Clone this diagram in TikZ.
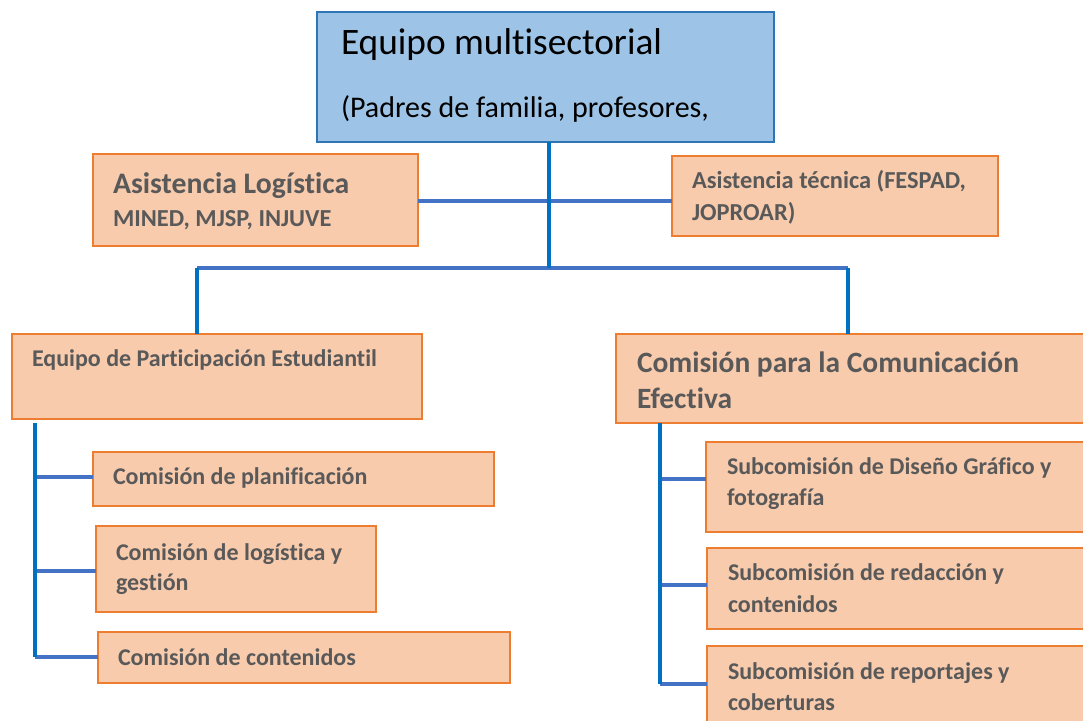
\documentclass[tikz,border=0pt]{standalone}
\usepackage{fontspec}
\setmainfont[Ligatures=NoCommon]{Carlito}
\definecolor{topfill}{HTML}{9DC3E6}
\definecolor{topdraw}{HTML}{2E75B6}
\definecolor{ofill}{HTML}{F8CBAD}
\definecolor{odraw}{HTML}{ED7D31}
\definecolor{ogray}{HTML}{595959}
\definecolor{vblue}{HTML}{0070C0}
\definecolor{hblue}{HTML}{4472C4}
\newcommand\mybox[6]{\node[#6, minimum width={(#4-#2)*0.75pt}, minimum height={(#5-#3)*0.75pt}] (#1) at ({(#2+#4)/2},{(#3+#5)/2}) {};}
\tikzset{
  boxbase/.style={rectangle, inner sep=0pt, outer sep=0pt, line width=1.7pt},
  topbox/.style={boxbase, fill=topfill, draw=topdraw},
  obox/.style={boxbase, fill=ofill, draw=odraw},
  txt/.style={anchor=base west, inner sep=0pt, outer sep=0pt, text=ogray, font=\bfseries},
  vline/.style={draw=vblue, line width=2.8pt},
  hline/.style={draw=hblue, line width=2.8pt},
}
\begin{document}
\begin{tikzpicture}[x=0.75pt, y=-0.75pt]
\useasboundingbox (0,0) rectangle (1083,721);
\clip (0,0) rectangle (1083,721);
% boxes
\mybox{top}{317}{12}{774}{142}{topbox}
\mybox{alog}{93}{154}{418}{246}{obox}
\mybox{atec}{672}{156}{998}{236}{obox}
\mybox{epe}{12}{334}{422}{419}{obox}
\mybox{cpl}{93}{452}{494}{506}{obox}
\mybox{clg}{96}{526}{376}{612}{obox}
\mybox{cct}{98}{632}{510}{683}{obox}
\mybox{cce}{616}{334}{1110}{423}{obox}
\mybox{sdg}{706}{442}{1110}{532}{obox}
\mybox{srd}{707}{548}{1110}{629}{obox}
\mybox{srp}{707}{646}{1110}{740}{obox}
% junction coordinates
\coordinate (jtop) at (549,268);
\coordinate (jmid) at (549,201);
\coordinate (jl) at (197,268);
\coordinate (jr) at (848,268);
\coordinate (ltr) at (35,423);
\coordinate (lb1) at (35,477);
\coordinate (lb2) at (35,571);
\coordinate (lb3) at (35,657);
\coordinate (rtr) at (660,423);
\coordinate (rb1) at (660,479);
\coordinate (rb2) at (660,585);
\coordinate (rb3) at (660,684);
% connectors
\draw[hline] (alog.east |- jmid) -- (atec.west |- jmid);
\draw[hline] (jl) -- (jr);
\draw[vline] (top.south -| jtop) -- (jtop);
\draw[vline] (jl) -- (epe.north -| jl);
\draw[vline] (jr) -- (cce.north -| jr);
\draw[hline] (lb1) -- (cpl.west |- lb1);
\draw[hline] (lb2) -- (clg.west |- lb2);
\draw[hline] (lb3) -- (cct.west |- lb3);
\draw[vline] (ltr) -- (lb3);
\draw[hline] (rb1) -- (sdg.west |- rb1);
\draw[hline] (rb2) -- (srd.west |- rb2);
\draw[hline] (rb3) -- (srp.west |- rb3);
\draw[vline] (rtr) -- (rb3);
% texts
\node[txt, text=black, font=\fontsize{28}{32}\selectfont] (t1) at (341,55) {Equipo multisectorial};
\node[txt, text=black, font=\fontsize{22.5}{26}\selectfont] (t2) at (341,117) {(Padres de familia, profesores,};
\node[txt, font=\fontsize{22.3}{26}\selectfont\bfseries] (t3) at (113,193) {Asistencia Logística};
\node[txt, font=\fontsize{18.3}{22}\selectfont\bfseries] (t4) at (113,226) {MINED, MJSP, INJUVE};
\node[txt, font=\fontsize{18.3}{22}\selectfont\bfseries] (t5) at (692,188) {Asistencia técnica (FESPAD,};
\node[txt, font=\fontsize{18.3}{22}\selectfont\bfseries] (t6) at (692,220) {JOPROAR)};
\node[txt, font=\fontsize{18}{22}\selectfont\bfseries] (t7) at (32,366) {Equipo de Participación Estudiantil};
\node[txt, font=\fontsize{18}{22}\selectfont\bfseries] (t8) at (113,484) {Comisión de planificación};
\node[txt, font=\fontsize{18}{22}\selectfont\bfseries] (t9) at (116,560) {Comisión de logística y};
\node[txt, font=\fontsize{18}{22}\selectfont\bfseries] (t10) at (116,590) {gestión};
\node[txt, font=\fontsize{18}{22}\selectfont\bfseries] (t11) at (118,665) {Comisión de contenidos};
\node[txt, font=\fontsize{22.1}{26}\selectfont\bfseries] (t12) at (637,372) {Comisión para la Comunicación};
\node[txt, font=\fontsize{22.1}{26}\selectfont\bfseries] (t13) at (637,408) {Efectiva};
\node[txt, font=\fontsize{18}{22}\selectfont\bfseries] (t14) at (727,474) {Subcomisión de Diseño Gráfico y};
\node[txt, font=\fontsize{18}{22}\selectfont\bfseries] (t15) at (727,505) {fotografía};
\node[txt, font=\fontsize{18}{22}\selectfont\bfseries] (t16) at (728,580) {Subcomisión de redacción y};
\node[txt, font=\fontsize{18}{22}\selectfont\bfseries] (t17) at (728,612) {contenidos};
\node[txt, font=\fontsize{18}{22}\selectfont\bfseries] (t18) at (728,679) {Subcomisión de reportajes y};
\node[txt, font=\fontsize{18}{22}\selectfont\bfseries] (t19) at (728,710) {coberturas};
\end{tikzpicture}
\end{document}
